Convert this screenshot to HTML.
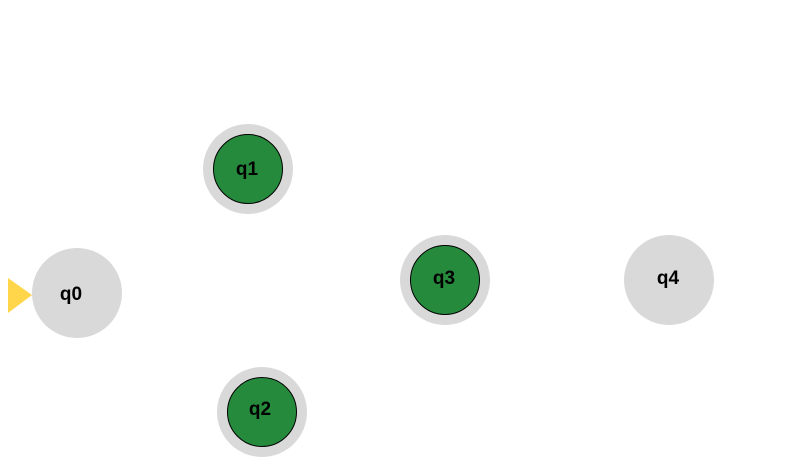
<!DOCTYPE html>
<html><head><style>html,body{margin:0;padding:0;background:#fff;}</style></head>
<body>
<svg width="808" height="457" viewBox="0 0 808 457" xmlns="http://www.w3.org/2000/svg" style="display:block">
<g font-family="Liberation Sans, sans-serif" font-weight="bold" font-size="19" text-anchor="middle" fill="#000">
<polygon points="8,278 8,313 32,295" fill="#ffd54a"/>
<circle cx="77" cy="293" r="45" fill="#d9d9d9"/>
<text x="71" y="300">q0</text>
<circle cx="248" cy="169" r="45" fill="#d9d9d9"/>
<circle cx="248" cy="169" r="34.5" fill="#268a3d" stroke="#000" stroke-width="1"/>
<text x="247" y="175">q1</text>
<circle cx="262" cy="412" r="45" fill="#d9d9d9"/>
<circle cx="262" cy="412" r="34.5" fill="#268a3d" stroke="#000" stroke-width="1"/>
<text x="260" y="415">q2</text>
<circle cx="445" cy="280" r="45" fill="#d9d9d9"/>
<circle cx="445" cy="280" r="34.5" fill="#268a3d" stroke="#000" stroke-width="1"/>
<text x="444" y="284">q3</text>
<circle cx="669" cy="280" r="45" fill="#d9d9d9"/>
<text x="668" y="284">q4</text>
</g>
</svg>
</body></html>
